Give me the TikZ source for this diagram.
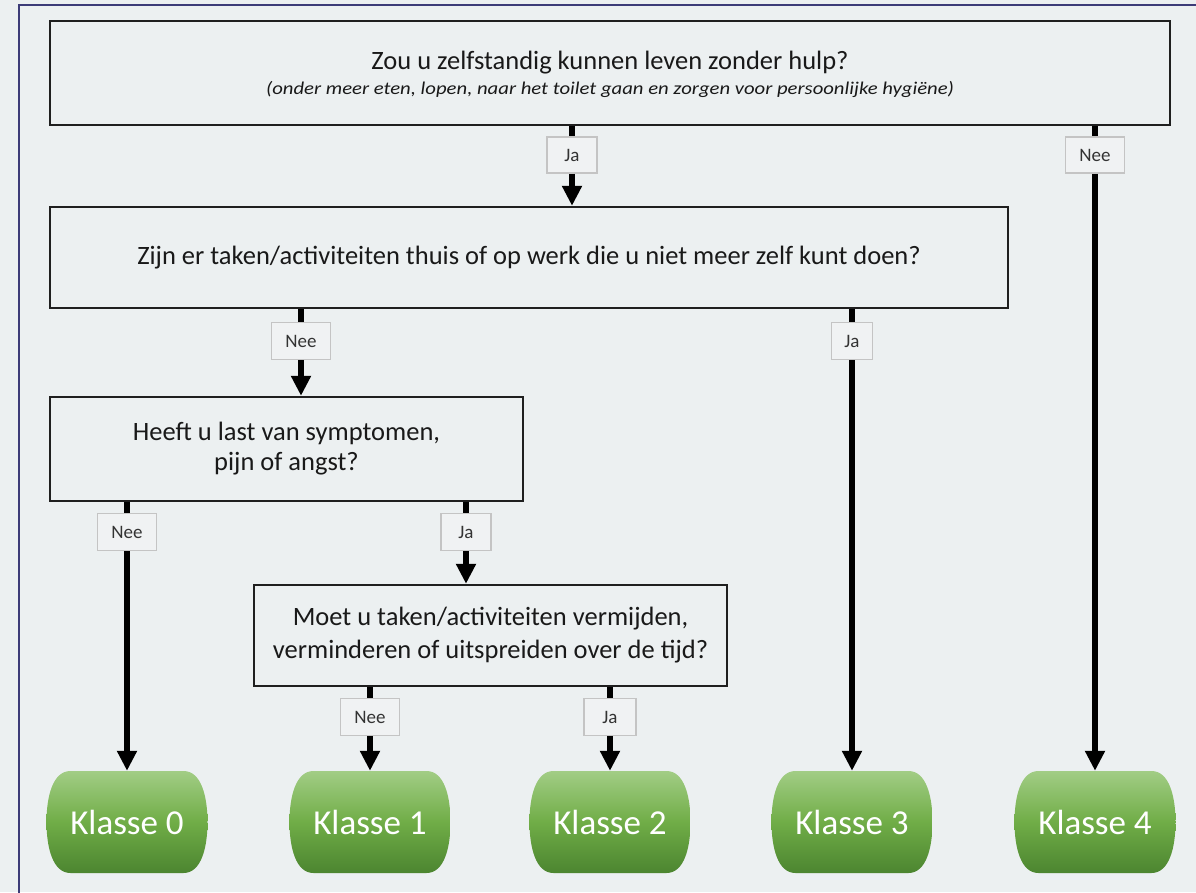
\documentclass[tikz,border=0pt]{standalone}
\usepackage{fontspec}
\setmainfont{Carlito}
\usetikzlibrary{arrows.meta}
\definecolor{bgc}{RGB}{236,240,241}
\definecolor{framec}{RGB}{60,60,120}
\definecolor{lblborder}{RGB}{196,196,196}
\definecolor{lblfill}{RGB}{240,242,243}
\definecolor{gtop}{RGB}{162,205,133}
\definecolor{gmid}{RGB}{112,173,71}
\definecolor{gbot}{RGB}{76,133,48}
\tikzset{
  qbox/.style={draw=black!88, line width=2.4pt, fill=bgc, align=center, inner sep=0pt,
    font=\fontsize{26.5}{30}\selectfont, text=black!90},
  lbl/.style={draw=lblborder, line width=1.5pt, fill=lblfill, minimum height=37pt,
    minimum width=59pt, inner sep=0pt, font=\fontsize{19}{22}\selectfont, text=black!80},
  klasse/.style={rectangle, minimum width=161pt, minimum height=102pt, inner sep=0pt,
    text=white, font=\fontsize{35}{40}\selectfont,
    path picture={
      \shade[top color=gtop, bottom color=gbot, middle color=gmid]
      ([xshift=24pt]path picture bounding box.north west) -- ([xshift=-24pt]path picture bounding box.north east)
      .. controls ([xshift=-6pt]path picture bounding box.north east) and ([yshift=-26pt]path picture bounding box.north east) .. (path picture bounding box.east)
      .. controls ([yshift=26pt]path picture bounding box.south east) and ([xshift=-6pt]path picture bounding box.south east) .. ([xshift=-24pt]path picture bounding box.south east)
      -- ([xshift=24pt]path picture bounding box.south west)
      .. controls ([xshift=6pt]path picture bounding box.south west) and ([yshift=26pt]path picture bounding box.south west) .. (path picture bounding box.west)
      .. controls ([yshift=-26pt]path picture bounding box.north west) and ([xshift=6pt]path picture bounding box.north west) .. cycle;
    }},
  conn/.style={line width=6pt, black},
  arr/.style={line width=6pt, black, -{Triangle[width=19pt,length=20pt]}}
}
\begin{document}
\begin{tikzpicture}[x=1pt,y=-1pt]
\useasboundingbox (0,0) rectangle (1196,892);
\fill[bgc] (0,0) rectangle (1196,892);
\draw[framec, line width=2pt] (1200,5) -- (19,5) -- (19,900);

% question boxes
\node[qbox, minimum width=1120pt, minimum height=104pt] (q1) at (610,73)
  {\rule{0pt}{22pt}Zou u zelfstandig kunnen leven zonder hulp?\\[-5pt]
   \scalebox{1.15}[1]{\fontsize{18}{20}\selectfont\itshape (onder meer eten, lopen, naar het toilet gaan en zorgen voor persoonlijke hygiëne)}};
\node[qbox, minimum width=958pt, minimum height=101pt] (q2) at (529,257.5)
  {Zijn er taken/activiteiten thuis of op werk die u niet meer zelf kunt doen?};
\node[qbox, minimum width=473pt, minimum height=104pt] (q3) at (286.5,449)
  {Heeft u last van symptomen,\\pijn of angst?};
\node[qbox, minimum width=473pt, minimum height=101pt, font=\fontsize{26.5}{33}\selectfont] (q4) at (490.5,635.5)
  {Moet u taken/activiteiten vermijden,\\verminderen of uitspreiden over de tijd?};

% end nodes
\node[klasse] (k0) at (127,822) {Klasse 0};
\node[klasse] (k1) at (370,822) {Klasse 1};
\node[klasse] (k2) at (610,822) {Klasse 2};
\node[klasse] (k3) at (852,822) {Klasse 3};
\node[klasse] (k4) at (1095,822) {Klasse 4};

% labels
\node[lbl, minimum width=50pt, minimum height=36pt] (l1) at (572,155) {Ja};
\node[lbl, minimum height=36pt] (l2) at (1095,155) {Nee};
\node[lbl] (l3) at (301,341) {Nee};
\node[lbl, minimum width=41pt] (l4) at (852,341) {Ja};
\node[lbl] (l5) at (127,532) {Nee};
\node[lbl, minimum width=50pt] (l6) at (466,532) {Ja};
\node[lbl] (l7) at (370,717) {Nee};
\node[lbl, minimum width=52pt] (l8) at (610,717) {Ja};

% connectors
\draw[conn] (l1 |- q1.south) -- (l1.north);
\draw[arr] (l1.south) -- (l1 |- q2.north);
\draw[conn] (l2 |- q1.south) -- (l2.north);
\draw[arr] (l2.south) -- (k4.north);
\draw[conn] (l3 |- q2.south) -- (l3.north);
\draw[arr] (l3.south) -- (l3 |- q3.north);
\draw[conn] (l4 |- q2.south) -- (l4.north);
\draw[arr] (l4.south) -- (k3.north);
\draw[conn] (l5 |- q3.south) -- (l5.north);
\draw[arr] (l5.south) -- (k0.north);
\draw[conn] (l6 |- q3.south) -- (l6.north);
\draw[arr] (l6.south) -- (l6 |- q4.north);
\draw[conn] (l7 |- q4.south) -- (l7.north);
\draw[arr] (l7.south) -- (k1.north);
\draw[conn] (l8 |- q4.south) -- (l8.north);
\draw[arr] (l8.south) -- (k2.north);
\end{tikzpicture}
\end{document}
